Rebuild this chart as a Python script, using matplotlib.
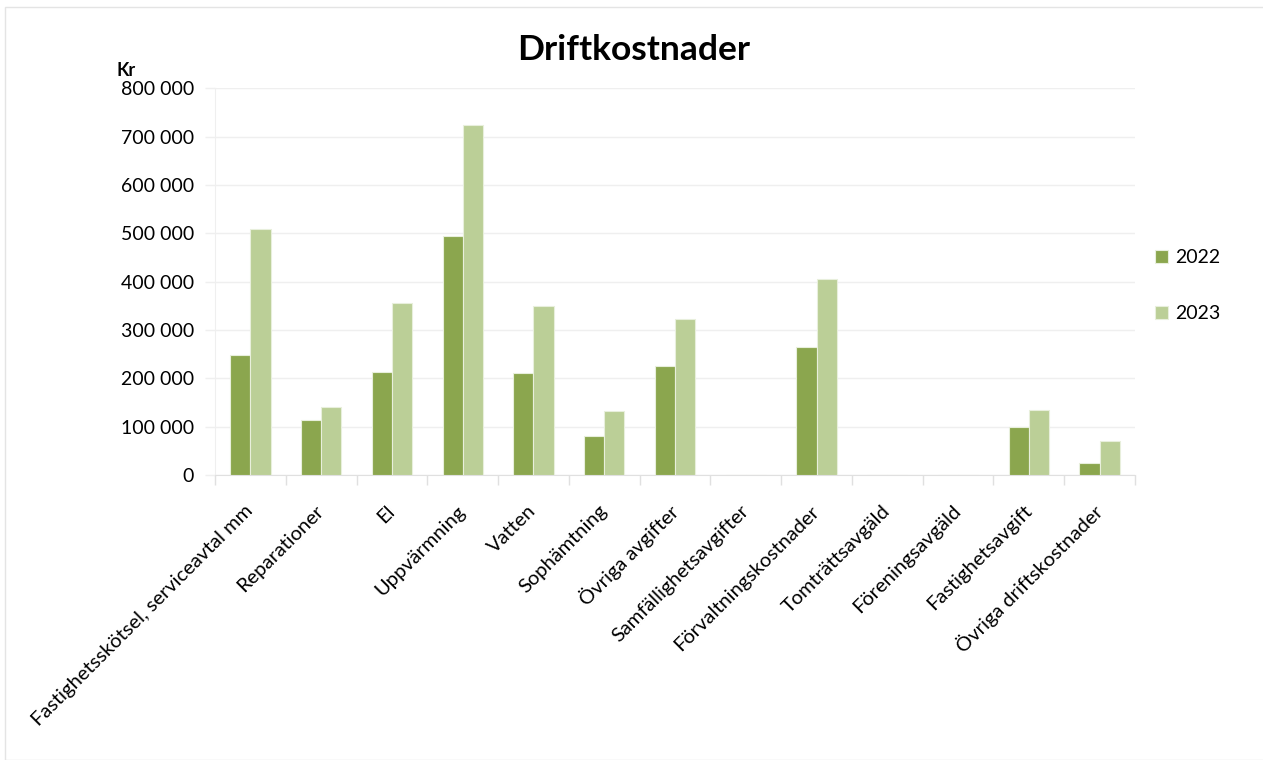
import matplotlib
matplotlib.use("Agg")
import matplotlib.pyplot as plt
import numpy as np
from matplotlib.ticker import FuncFormatter, MultipleLocator
from matplotlib.patches import Rectangle

plt.rcParams['font.family'] = ['Lato', 'DejaVu Sans']

# Data
kategorier = ['Fastighetsskötsel, serviceavtal mm', 'Reparationer', 'El', 'Uppvärmning',
              'Vatten', 'Sophämtning', 'Övriga avgifter', 'Samfällighetsavgifter',
              'Förvaltningskostnader', 'Tomträttsavgäld', 'Föreningsavgäld',
              'Fastighetsavgift', 'Övriga driftskostnader']
kostnad_2022 = [248000, 113000, 213000, 494000, 212000, 81000, 225000, 0,
                264000, 0, 0, 100000, 24000]
kostnad_2023 = [508000, 140000, 356000, 725000, 350000, 133000, 323000, 0,
                406000, 0, 0, 135000, 70000]
serier = ['2022', '2023']

farg_2022 = '#8ba64e'
farg_2023 = '#bbcf97'
grid_farg = '#efefef'

W, H = 1263, 760
fig = plt.figure(figsize=(W / 100, H / 100), dpi=100)

# light border round the chart area
fig.patches.append(Rectangle((5 / W, 0), 1.0, 1 - 7 / H, transform=fig.transFigure,
                             fill=False, edgecolor='#e4e4e4', linewidth=1))

ax = fig.add_axes([215 / W, 1 - 475 / H, 920 / W, 386.7 / H])

x = np.arange(len(kategorier))
bredd = 0.285
ax.bar(x - bredd / 2, kostnad_2022, bredd, color=farg_2022, edgecolor='#e8efdc',
       linewidth=0.8, label=serier[0], zorder=3)
ax.bar(x + bredd / 2, kostnad_2023, bredd, color=farg_2023, edgecolor='#e8efdc',
       linewidth=0.8, label=serier[1], zorder=3)

ax.set_xlim(-0.5, len(kategorier) - 0.5)
ax.set_ylim(0, 800000)
ax.yaxis.set_major_locator(MultipleLocator(100000))
ax.yaxis.set_major_formatter(FuncFormatter(lambda v, p: f'{int(v):,}'.replace(',', ' ')))
ax.grid(axis='y', color=grid_farg, linewidth=1, zorder=0)

# category ticks at boundaries, labels at centres
ax.set_xticks(np.arange(len(kategorier) + 1) - 0.5)
ax.set_xticklabels([])
ax.set_xticks(x, minor=True)
ax.set_xticklabels(kategorier, minor=True, rotation=45, ha='right', va='center',
                   rotation_mode='anchor', fontsize=14.5)
ax.tick_params(axis='x', which='minor', length=0, pad=24)
ax.tick_params(axis='x', which='major', length=7, color='#e0e0e0', width=1)
ax.tick_params(axis='y', length=7, color=grid_farg, width=1, labelsize=14, pad=8)

for s in ['top', 'right']:
    ax.spines[s].set_visible(False)
ax.spines['left'].set_color(grid_farg)
ax.spines['bottom'].set_color('#e0e0e0')

# Title and axis unit
fig.text(634 / W, 1 - 50 / H, 'Driftkostnader', ha='center', va='center',
         fontsize=25.5, fontweight='bold')
fig.text(117 / W, 1 - 70 / H, 'Kr', ha='left', va='center', fontsize=13, fontweight='bold')

fig.legend(loc='center left', bbox_to_anchor=(1155 / W, 1 - 285.5 / H), frameon=False,
           fontsize=14, handlelength=0.65, handleheight=0.65, handletextpad=0.4,
           labelspacing=2.0, borderpad=0, borderaxespad=0)

fig.savefig('out.png', dpi=100)
